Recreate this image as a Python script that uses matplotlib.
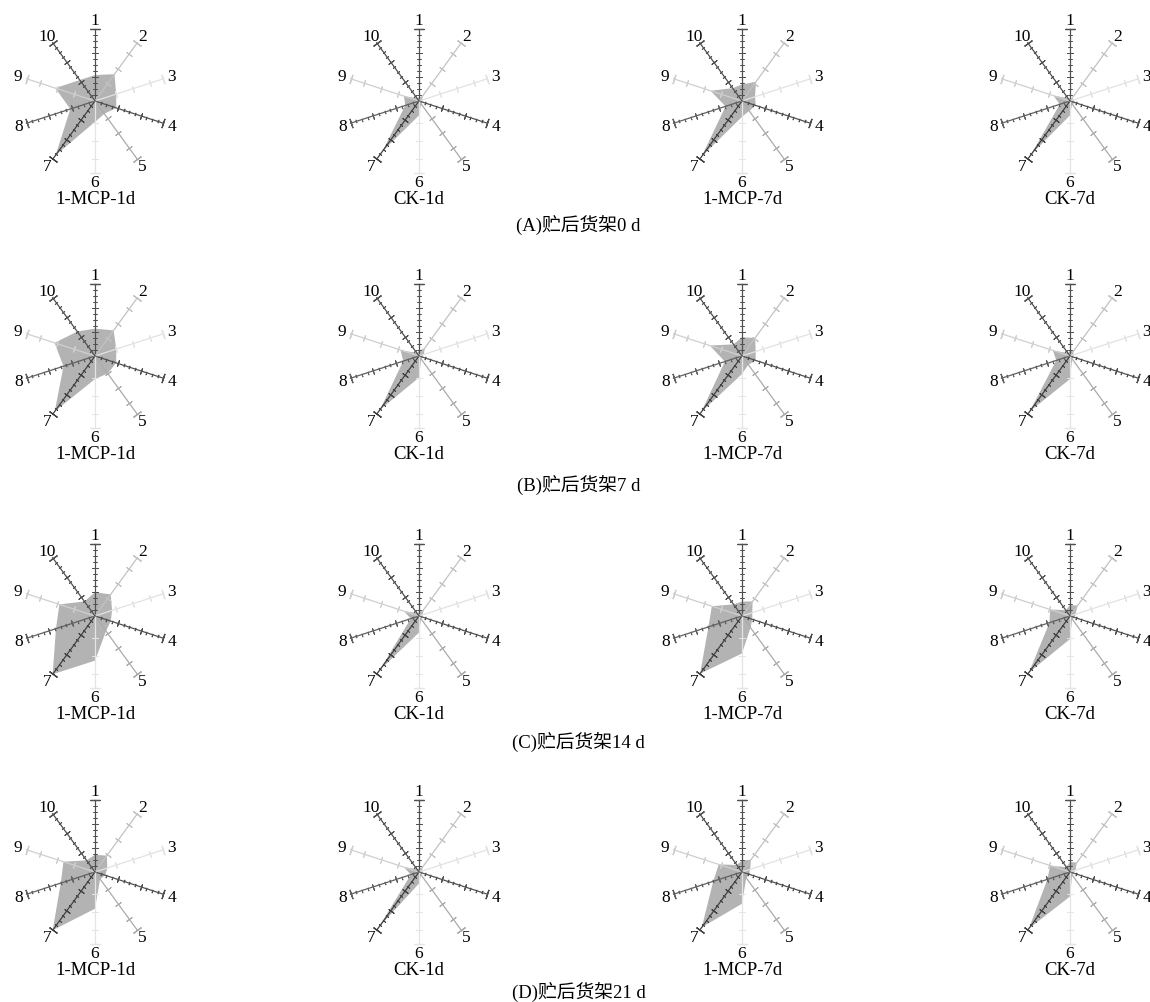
import numpy as np
import matplotlib.pyplot as plt

plt.rcParams['font.family'] = ['Liberation Serif', 'Noto Sans CJK SC']

axis_labels = ['1', '2', '3', '4', '5', '6', '7', '8', '9', '10']
panel_names = ['1-MCP-1d', 'CK-1d', '1-MCP-7d', 'CK-7d']
row_titles = ['(A)贮后货架0 d', '(B)贮后货架7 d', '(C)贮后货架14 d', '(D)贮后货架21 d']

# values per panel, axes 1..10 (fraction of full scale)
shelf_0d = [[0.36, 0.46, 0.31, 0.31, 0.22, 0.29, 0.93, 0.36, 0.58, 0.36],
            [0.05, 0.08, 0.05, 0.05, 0.05, 0.20, 0.87, 0.20, 0.22, 0.05],
            [0.23, 0.33, 0.19, 0.20, 0.17, 0.22, 0.95, 0.24, 0.46, 0.22],
            [0.03, 0.05, 0.05, 0.08, 0.05, 0.20, 0.92, 0.15, 0.24, 0.05]]
shelf_7d = [[0.38, 0.44, 0.31, 0.31, 0.30, 0.32, 0.95, 0.46, 0.59, 0.42],
            [0.07, 0.14, 0.07, 0.05, 0.05, 0.30, 0.92, 0.23, 0.27, 0.05],
            [0.26, 0.31, 0.20, 0.20, 0.15, 0.25, 0.96, 0.25, 0.47, 0.20],
            [0.07, 0.08, 0.05, 0.05, 0.05, 0.32, 0.95, 0.20, 0.25, 0.05]]
shelf_14d = [[0.33, 0.37, 0.25, 0.23, 0.26, 0.62, 1.00, 0.57, 0.52, 0.25],
             [0.05, 0.12, 0.05, 0.05, 0.05, 0.23, 0.93, 0.12, 0.22, 0.05],
             [0.20, 0.25, 0.15, 0.15, 0.20, 0.52, 0.99, 0.49, 0.44, 0.20],
             [0.15, 0.18, 0.08, 0.07, 0.05, 0.32, 0.97, 0.30, 0.29, 0.10]]
shelf_21d = [[0.24, 0.28, 0.18, 0.15, 0.12, 0.51, 1.00, 0.50, 0.46, 0.20],
             [0.05, 0.08, 0.05, 0.05, 0.05, 0.16, 0.95, 0.12, 0.22, 0.05],
             [0.16, 0.21, 0.12, 0.10, 0.10, 0.44, 0.95, 0.42, 0.34, 0.12],
             [0.14, 0.16, 0.08, 0.05, 0.05, 0.34, 0.97, 0.33, 0.29, 0.08]]
rows = [shelf_0d, shelf_7d, shelf_14d, shelf_21d]

axis_colors = ['#505050', '#c2c2c2', '#e2e2e2', '#505050', '#ababab',
               '#e4e4e4', '#404040', '#606060', '#cfcfcf', '#505050']
dark_axis = [True, False, False, True, False, False, True, True, False, True]

W, H = 1150, 1003
R = 72
col_x = [95, 419, 742, 1070]
row_y = [102, 357, 617, 873]
title_y = [225, 485, 742, 992]

fig = plt.figure(figsize=(W / 100, H / 100), dpi=100)
theta = np.deg2rad(np.arange(10) * 36)
minor = np.arange(1, 12) / 12
major_dark = [1 / 3, 2 / 3]
major_light = [0.3, 0.55, 0.8]

for r, vals_row in enumerate(rows):
    for c, vals in enumerate(vals_row):
        ax = fig.add_axes([(col_x[c] - R) / W, 1 - (row_y[r] + R) / H, 2 * R / W, 2 * R / H],
                          projection='polar')
        ax.set_theta_zero_location('N')
        ax.set_theta_direction(-1)
        ax.set_ylim(0, 1)
        ax.axis('off')
        ax.fill(np.append(theta, theta[0]), vals + [vals[0]], color='#b3b3b3', lw=0, zorder=1)
        for i in range(10):
            col = axis_colors[i]
            rot = 90 - 36 * i
            ax.plot([theta[i], theta[i]], [0, 1], color=col, lw=0.9, zorder=2, clip_on=False)
            if dark_axis[i]:
                ax.plot([theta[i]] * len(minor), minor, ls='none', marker=(2, 2, rot), ms=2.5,
                        mec=col, mew=0.6, zorder=2, clip_on=False)
                ticks = major_dark
            else:
                ticks = major_light
            ax.plot([theta[i]] * len(ticks), ticks, ls='none', marker=(2, 2, rot), ms=5,
                    mec=col, mew=0.7, zorder=2, clip_on=False)
            ax.plot([theta[i]], [1], ls='none', marker=(2, 2, rot), ms=7,
                    mec=col, mew=0.9, zorder=2, clip_on=False)
            ax.text(theta[i], 1.12, axis_labels[i], ha='center', va='center',
                    fontsize=12.5, clip_on=False)
        ax.text(0.5, -0.18, panel_names[c], transform=ax.transAxes,
                ha='center', va='center', fontsize=13.5)
    fig.text(0.503, 1 - title_y[r] / H, row_titles[r], ha='center', va='center', fontsize=13.5)

plt.savefig('out.png', dpi=100)
